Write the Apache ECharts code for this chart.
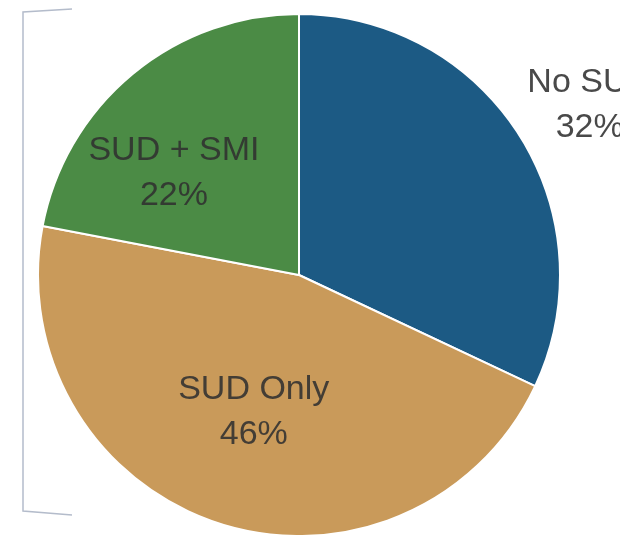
<!DOCTYPE html>
<html>
<head>
<meta charset="utf-8">
<script src="https://cdn.jsdelivr.net/npm/echarts@6/dist/echarts.min.js"></script>
<style>
  html, body { margin: 0; padding: 0; background: #fff; }
  #chart { width: 620px; height: 535px; }
</style>
</head>
<body>
<div id="chart"></div>
<script>
// Share of people by substance-use / mental-illness group
const categories = ['No SUD', 'SUD Only', 'SUD + SMI'];
const shares = [32, 46, 22];
const sliceColors = ['#1c5a84', '#c99a5a', '#4b8b45'];

// Label nudges (dx, dy) relative to the default inside-label anchor
const labelNudge = [[178, -98], [-4, 10], [-40, 1]];

const chart = echarts.init(document.getElementById('chart'), null, { renderer: 'canvas' });

chart.setOption({
  animation: false,
  backgroundColor: '#ffffff',
  graphic: [{
    type: 'polyline',
    shape: { points: [[72, 9], [23, 12], [23, 511], [72, 515]] },
    style: { stroke: '#b4bccb', lineWidth: 1.5, fill: null }
  }],
  series: [{
    type: 'pie',
    center: [299, 275],
    radius: 261,
    startAngle: 90,
    clockwise: true,
    avoidLabelOverlap: false,
    itemStyle: { borderColor: '#ffffff', borderWidth: 2 },
    label: {
      show: true,
      position: 'inside',
      formatter: p => p.name + '\n' + p.value + '%',
      fontFamily: '"Liberation Sans", Arial, sans-serif',
      fontSize: 34,
      lineHeight: 45,
      color: 'rgba(48,48,48,0.88)',
      align: 'center',
      verticalAlign: 'middle'
    },
    labelLine: { show: false },
    labelLayout: params => {
      const n = labelNudge[params.dataIndex];
      return { dx: n[0], dy: n[1] };
    },
    data: categories.map((c, i) => ({
      name: c,
      value: shares[i],
      itemStyle: { color: sliceColors[i] }
    }))
  }]
});
</script>
</body>
</html>
